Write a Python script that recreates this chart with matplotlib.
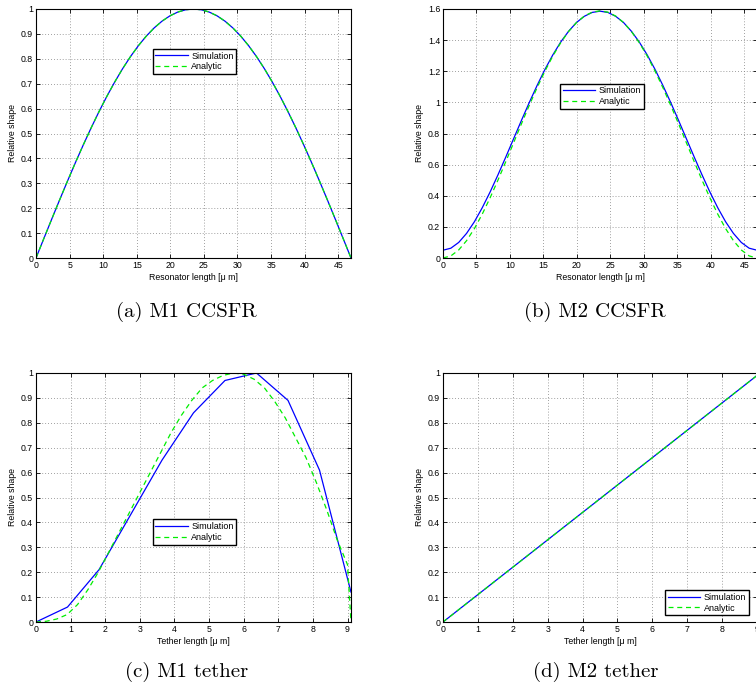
import numpy as np
import matplotlib
matplotlib.use("Agg")
import matplotlib.pyplot as plt

plt.rcParams['font.family'] = ['Liberation Sans', 'DejaVu Sans']

# ---- (a) M1 CCSFR: resonator mode shape -------------------------------
res_len = 46.9
res_x = np.linspace(0, res_len, 41)
m1_res_sim = [0.0, 0.0785, 0.1564, 0.2334, 0.3090, 0.3827, 0.4540, 0.5225, 0.5878,
              0.6494, 0.7071, 0.7604, 0.8090, 0.8526, 0.8910, 0.9239, 0.9511, 0.9724,
              0.9877, 0.9969, 1.0, 0.9969, 0.9877, 0.9724, 0.9511, 0.9239, 0.8910,
              0.8526, 0.8090, 0.7604, 0.7071, 0.6494, 0.5878, 0.5225, 0.4540, 0.3827,
              0.3090, 0.2334, 0.1564, 0.0785, 0.0]
m1_res_ana = [0.0, 0.0785, 0.1564, 0.2334, 0.3090, 0.3827, 0.4540, 0.5225, 0.5878,
              0.6494, 0.7071, 0.7604, 0.8090, 0.8526, 0.8910, 0.9239, 0.9511, 0.9724,
              0.9877, 0.9969, 1.0, 0.9969, 0.9877, 0.9724, 0.9511, 0.9239, 0.8910,
              0.8526, 0.8090, 0.7604, 0.7071, 0.6494, 0.5878, 0.5225, 0.4540, 0.3827,
              0.3090, 0.2334, 0.1564, 0.0785, 0.0]

# ---- (b) M2 CCSFR -----------------------------------------------------
m2_res_sim = [0.050, 0.063, 0.100, 0.158, 0.233, 0.323, 0.424, 0.534, 0.649, 0.767,
              0.885, 1.000, 1.110, 1.213, 1.306, 1.388, 1.457, 1.513, 1.553, 1.578,
              1.586, 1.578, 1.553, 1.513, 1.457, 1.388, 1.306, 1.213, 1.110, 1.000,
              0.885, 0.767, 0.649, 0.534, 0.424, 0.323, 0.233, 0.158, 0.100, 0.063,
              0.050]
m2_res_ana = [0.0, 0.0134, 0.0516, 0.1112, 0.1891, 0.2820, 0.3867, 0.5002, 0.6194,
              0.7413, 0.8631, 0.9822, 1.0960, 1.2022, 1.2987, 1.3837, 1.4554, 1.5127,
              1.5544, 1.5797, 1.5881, 1.5797, 1.5544, 1.5127, 1.4554, 1.3837, 1.2987,
              1.2022, 1.0960, 0.9822, 0.8631, 0.7413, 0.6194, 0.5002, 0.3867, 0.2820,
              0.1891, 0.1112, 0.0516, 0.0134, 0.0]

# ---- (c) M1 tether ----------------------------------------------------
m1_teth_sim_x = [0, 0.91, 1.82, 2.73, 3.64, 4.55, 5.46, 6.37, 7.28, 8.19, 9.1]
m1_teth_sim = [0.0, 0.06, 0.21, 0.43, 0.65, 0.84, 0.97, 1.0, 0.89, 0.61, 0.12]
m1_teth_ana_x = [0, 0.3, 0.6, 0.9, 1.2, 1.5, 1.8, 2.1, 2.4, 2.7, 3.0, 3.3, 3.6, 3.9,
                 4.2, 4.5, 4.8, 5.1, 5.4, 5.7, 6.0, 6.3, 6.6, 6.9, 7.2, 7.5, 7.8, 8.1,
                 8.4, 8.7, 9.0, 9.1]
m1_teth_ana = [0.0, 0.003, 0.012, 0.03, 0.07, 0.13, 0.20, 0.28, 0.36, 0.44, 0.52,
               0.60, 0.68, 0.76, 0.83, 0.89, 0.94, 0.97, 0.99, 1.0, 0.995, 0.975,
               0.94, 0.885, 0.82, 0.74, 0.66, 0.56, 0.45, 0.33, 0.23, 0.0]

# ---- (d) M2 tether ----------------------------------------------------
m2_teth_x = [0, 9]
m2_teth_sim = [0.0, 0.99]
m2_teth_ana = [0.0, 0.99]

res_xticks = [0, 5, 10, 15, 20, 25, 30, 35, 40, 45]
teth_xticks = [0, 1, 2, 3, 4, 5, 6, 7, 8, 9]
unit_yticks = [0, 0.1, 0.2, 0.3, 0.4, 0.5, 0.6, 0.7, 0.8, 0.9, 1]
unit_ylabels = ['0', '0.1', '0.2', '0.3', '0.4', '0.5', '0.6', '0.7', '0.8', '0.9', '1']
b_yticks = [0, 0.2, 0.4, 0.6, 0.8, 1.0, 1.2, 1.4, 1.6]
b_ylabels = ['0', '0.2', '0.4', '0.6', '0.8', '1', '1.2', '1.4', '1.6']

captions = ['(a) M1 CCSFR', '(b) M2 CCSFR', '(c) M1 tether', '(d) M2 tether']

W, H = 756, 690
fig = plt.figure(figsize=(W / 100, H / 100), dpi=100)


def px_axes(x0, y0, x1, y1):
    return fig.add_axes([x0 / W, 1 - y1 / H, (x1 - x0) / W, (y1 - y0) / H])


def style(ax, xlim, xticks, ylim, yticks, ylabels, xlabel):
    ax.set_xlim(*xlim)
    ax.set_ylim(*ylim)
    ax.set_xticks(xticks)
    ax.set_xticklabels([str(t) for t in xticks])
    ax.set_yticks(yticks)
    ax.set_yticklabels(ylabels)
    ax.tick_params(direction='in', length=3, width=0.6, labelsize=6.3, pad=2,
                   top=True, right=True, colors='black')
    ax.grid(True, color='#808080', linestyle=(0, (1, 2.5)), linewidth=0.6)
    for s in ax.spines.values():
        s.set_linewidth(0.8)
    ax.set_xlabel(xlabel, fontsize=6.3, labelpad=2)
    ax.set_ylabel('Relative shape', fontsize=6.3, labelpad=3)


def legend(ax, anchor):
    ax.legend(loc='upper left', bbox_to_anchor=anchor, fontsize=6.5,
              frameon=True, fancybox=False, edgecolor='black', framealpha=1,
              borderaxespad=0, handlelength=3.6, handletextpad=0.4,
              borderpad=0.3, labelspacing=0.2)


blue = '#0000ff'
green = '#00ee00'

ax_a = px_axes(36, 9, 351, 258)
ax_a.plot(res_x, m1_res_sim, color=blue, lw=0.9, label='Simulation')
ax_a.plot(res_x, m1_res_ana, color=green, lw=0.9, ls=(0, (4, 3)), label='Analytic')
style(ax_a, (0, res_len), res_xticks, (0, 1), unit_yticks, unit_ylabels,
      'Resonator length [\u03bc m]')
legend(ax_a, (0.37, 0.84))

ax_b = px_axes(443, 9, 757, 258)
ax_b.plot(res_x, m2_res_sim, color=blue, lw=0.9, label='Simulation')
ax_b.plot(res_x, m2_res_ana, color=green, lw=0.9, ls=(0, (4, 3)), label='Analytic')
style(ax_b, (0, res_len), res_xticks, (0, 1.6), b_yticks, b_ylabels,
      'Resonator length [\u03bc m]')
legend(ax_b, (0.372, 0.70))

ax_c = px_axes(36, 373, 351, 622)
ax_c.plot(m1_teth_sim_x, m1_teth_sim, color=blue, lw=0.9, label='Simulation')
ax_c.plot(m1_teth_ana_x, m1_teth_ana, color=green, lw=0.9, ls=(0, (4, 3)), label='Analytic')
style(ax_c, (0, 9.1), teth_xticks, (0, 1), unit_yticks, unit_ylabels,
      'Tether length [\u03bc m]')
legend(ax_c, (0.37, 0.412))

ax_d = px_axes(443, 373, 757, 622)
ax_d.plot(m2_teth_x, m2_teth_sim, color=blue, lw=0.9, label='Simulation')
ax_d.plot(m2_teth_x, m2_teth_ana, color=green, lw=0.9, ls=(0, (4, 3)), label='Analytic')
style(ax_d, (0, 9), teth_xticks, (0, 1), unit_yticks, unit_ylabels,
      'Tether length [\u03bc m]')
legend(ax_d, (0.707, 0.128))

cap_pos = [(186, 312), (595, 312), (187, 672), (596, 672)]
for text, (cx, cy) in zip(captions, cap_pos):
    fig.text(cx / W, 1 - cy / H, text, ha='center', va='center',
             fontsize=15, family='cmr10')

fig.savefig('out.png', dpi=100)
